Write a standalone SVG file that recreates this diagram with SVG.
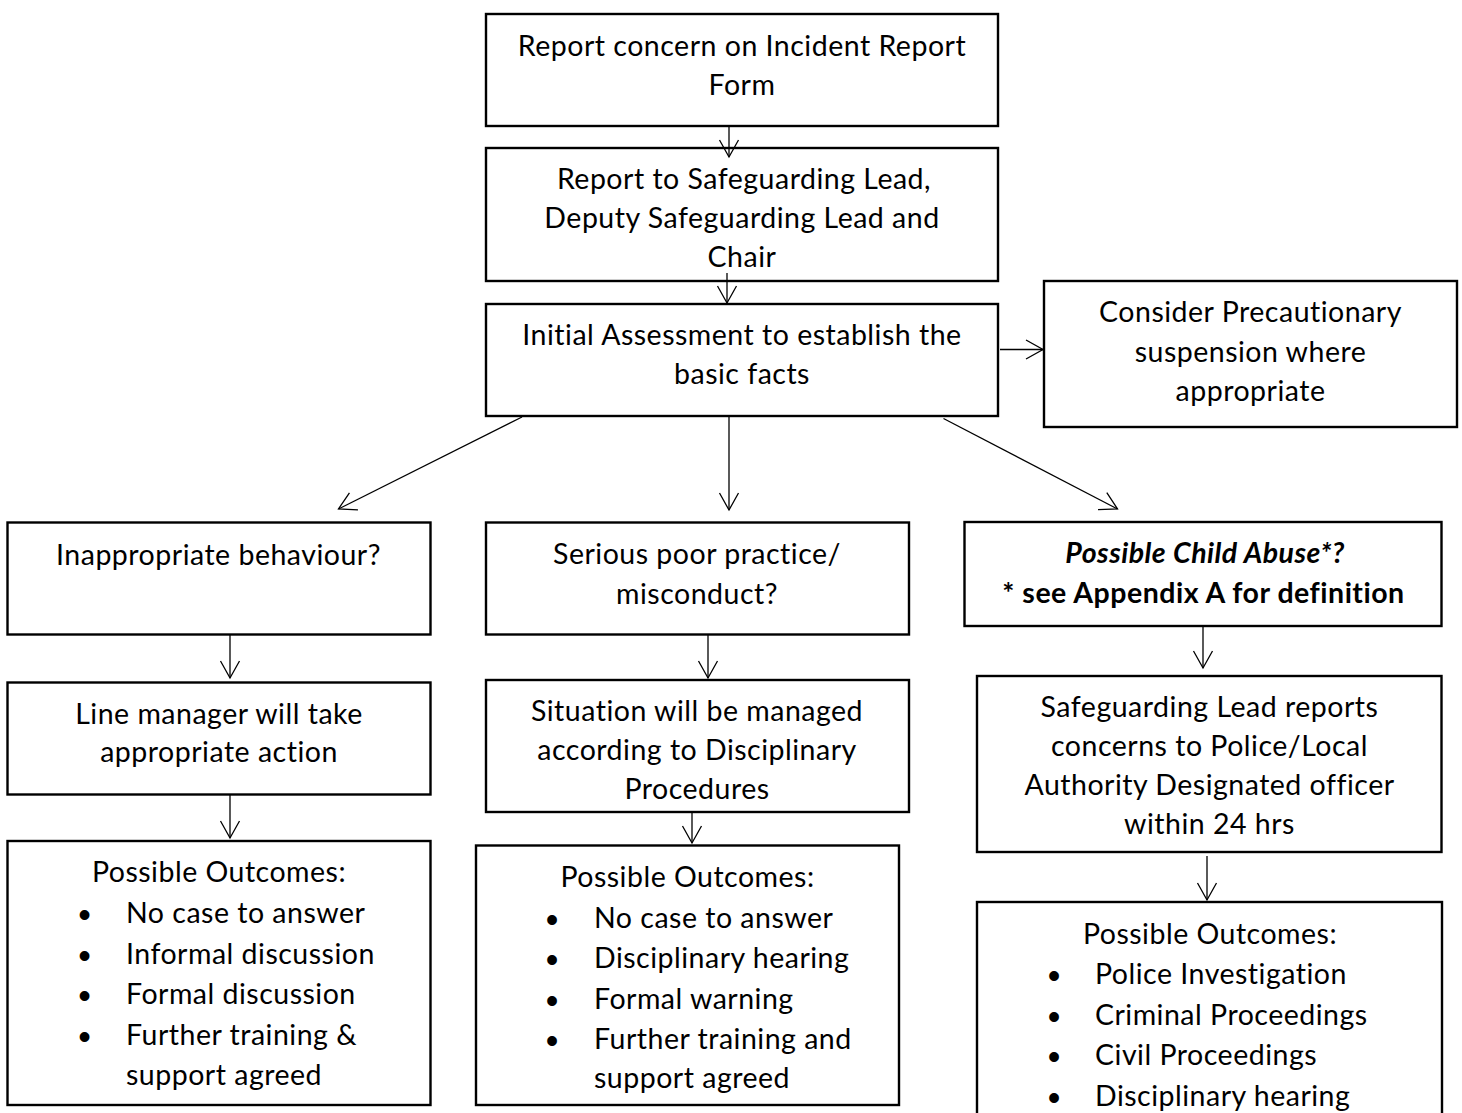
<svg xmlns="http://www.w3.org/2000/svg" width="1462" height="1113" viewBox="0 0 1462 1113">
<defs>
<style>
.box{fill:#fff;stroke:#000;stroke-width:2.4}
.t{font-family:Lato,"Liberation Sans",sans-serif;font-size:28.5px;letter-spacing:0.5px;fill:#000;text-anchor:middle}
.l{font-family:Lato,"Liberation Sans",sans-serif;font-size:28.5px;letter-spacing:0.5px;fill:#000;text-anchor:start}
.b{font-family:"Liberation Sans",sans-serif;font-size:36px;fill:#000;text-anchor:middle}
.c{fill:none;stroke:#000;stroke-width:1.3}
</style>
<marker id="ah" markerUnits="userSpaceOnUse" markerWidth="40" markerHeight="40" viewBox="-20 -20 40 40" refX="0" refY="0" orient="auto" overflow="visible">
<path d="M-17,-9.5 L0,0 L-17,9.5" fill="none" stroke="#000" stroke-width="1.3"/>
</marker>
</defs>
<rect width="1462" height="1113" fill="#fff"/>

<g id="n1"><rect class="box" x="486" y="14" width="512" height="112"/>
<text class="t" x="742" y="56">Report concern on Incident Report</text>
<text class="t" x="742" y="95">Form</text></g>

<g id="n2"><rect class="box" x="486" y="148" width="512" height="133"/>
<text class="t" x="744" y="189">Report to Safeguarding Lead,</text>
<text class="t" x="742" y="228">Deputy Safeguarding Lead and</text>
<text class="t" x="742" y="267">Chair</text></g>

<g id="n3"><rect class="box" x="486" y="304" width="512" height="112"/>
<text class="t" x="742" y="345">Initial Assessment to establish the</text>
<text class="t" x="742" y="384">basic facts</text></g>

<g id="n4"><rect class="box" x="1044" y="281" width="413" height="146"/>
<text class="t" x="1250.5" y="321.5">Consider Precautionary</text>
<text class="t" x="1250.5" y="361.5">suspension where</text>
<text class="t" x="1250.5" y="400.5">appropriate</text></g>

<g id="n5"><rect class="box" x="7.5" y="522.5" width="423" height="112"/>
<text class="t" x="218.5" y="564.5">Inappropriate behaviour?</text></g>

<g id="n6"><rect class="box" x="486" y="522.5" width="423" height="112"/>
<text class="t" x="697" y="563.5">Serious poor practice/</text>
<text class="t" x="697" y="603.5">misconduct?</text></g>

<g id="n7"><rect class="box" x="964.5" y="522" width="477" height="104"/>
<text class="t" x="1205" y="562.5" font-weight="bold" font-style="italic">Possible Child Abuse*?</text>
<text class="t" x="1203.5" y="602.5" font-weight="bold">* see Appendix A for definition</text></g>

<g id="n8"><rect class="box" x="7.5" y="682.5" width="423" height="112"/>
<text class="t" x="219" y="723.5">Line manager will take</text>
<text class="t" x="219" y="762">appropriate action</text></g>

<g id="n9"><rect class="box" x="486" y="680" width="423" height="132"/>
<text class="t" x="697" y="721">Situation will be managed</text>
<text class="t" x="697" y="760">according to Disciplinary</text>
<text class="t" x="697" y="799">Procedures</text></g>

<g id="n10"><rect class="box" x="977" y="676" width="464.5" height="176"/>
<text class="t" x="1209.5" y="717">Safeguarding Lead reports</text>
<text class="t" x="1209.5" y="756">concerns to Police/Local</text>
<text class="t" x="1209.5" y="795">Authority Designated officer</text>
<text class="t" x="1209.5" y="834">within 24 hrs</text></g>

<g id="n11"><rect class="box" x="7.5" y="841" width="423" height="264"/>
<text class="t" x="219" y="882">Possible Outcomes:</text>
<text class="b" x="84.5" y="927">•</text><text class="l" x="126" y="923">No case to answer</text>
<text class="b" x="84.5" y="967.5">•</text><text class="l" x="126" y="963.5">Informal discussion</text>
<text class="b" x="84.5" y="1008">•</text><text class="l" x="126" y="1004">Formal discussion</text>
<text class="b" x="84.5" y="1049">•</text><text class="l" x="126" y="1045">Further training &amp;</text>
<text class="l" x="126" y="1084.5">support agreed</text></g>

<g id="n12"><rect class="box" x="476" y="845.5" width="423" height="259.5"/>
<text class="t" x="687.5" y="886.5">Possible Outcomes:</text>
<text class="b" x="552" y="931.5">•</text><text class="l" x="594" y="927.5">No case to answer</text>
<text class="b" x="552" y="972">•</text><text class="l" x="594" y="968">Disciplinary hearing</text>
<text class="b" x="552" y="1012.5">•</text><text class="l" x="594" y="1008.5">Formal warning</text>
<text class="b" x="552" y="1053">•</text><text class="l" x="594" y="1049">Further training and</text>
<text class="l" x="594" y="1088">support agreed</text></g>

<g id="n13"><rect class="box" x="977" y="902" width="465" height="230"/>
<text class="t" x="1210" y="943.5">Possible Outcomes:</text>
<text class="b" x="1054" y="987.5">•</text><text class="l" x="1095" y="983.5">Police Investigation</text>
<text class="b" x="1054" y="1028.5">•</text><text class="l" x="1095" y="1024.5">Criminal Proceedings</text>
<text class="b" x="1054" y="1069">•</text><text class="l" x="1095" y="1065">Civil Proceedings</text>
<text class="b" x="1054" y="1109.5">•</text><text class="l" x="1095" y="1105.5">Disciplinary hearing</text></g>

<g id="connectors">
<line class="c" x1="729" y1="126" x2="729" y2="157" marker-end="url(#ah)"/>
<line class="c" x1="727" y1="273" x2="727" y2="303" marker-end="url(#ah)"/>
<line class="c" x1="1000" y1="349.5" x2="1043" y2="349.5" marker-end="url(#ah)"/>
<line class="c" x1="522" y1="417" x2="338.5" y2="509" marker-end="url(#ah)"/>
<line class="c" x1="729" y1="417" x2="729" y2="510" marker-end="url(#ah)"/>
<line class="c" x1="943.5" y1="418.5" x2="1117.5" y2="509" marker-end="url(#ah)"/>
<line class="c" x1="230" y1="635" x2="230" y2="678" marker-end="url(#ah)"/>
<line class="c" x1="230" y1="795" x2="230" y2="838" marker-end="url(#ah)"/>
<line class="c" x1="708" y1="634" x2="708" y2="678" marker-end="url(#ah)"/>
<line class="c" x1="692" y1="812" x2="692" y2="843" marker-end="url(#ah)"/>
<line class="c" x1="1203" y1="626.5" x2="1203" y2="668" marker-end="url(#ah)"/>
<line class="c" x1="1207" y1="856" x2="1207" y2="900" marker-end="url(#ah)"/>
</g>
</svg>
